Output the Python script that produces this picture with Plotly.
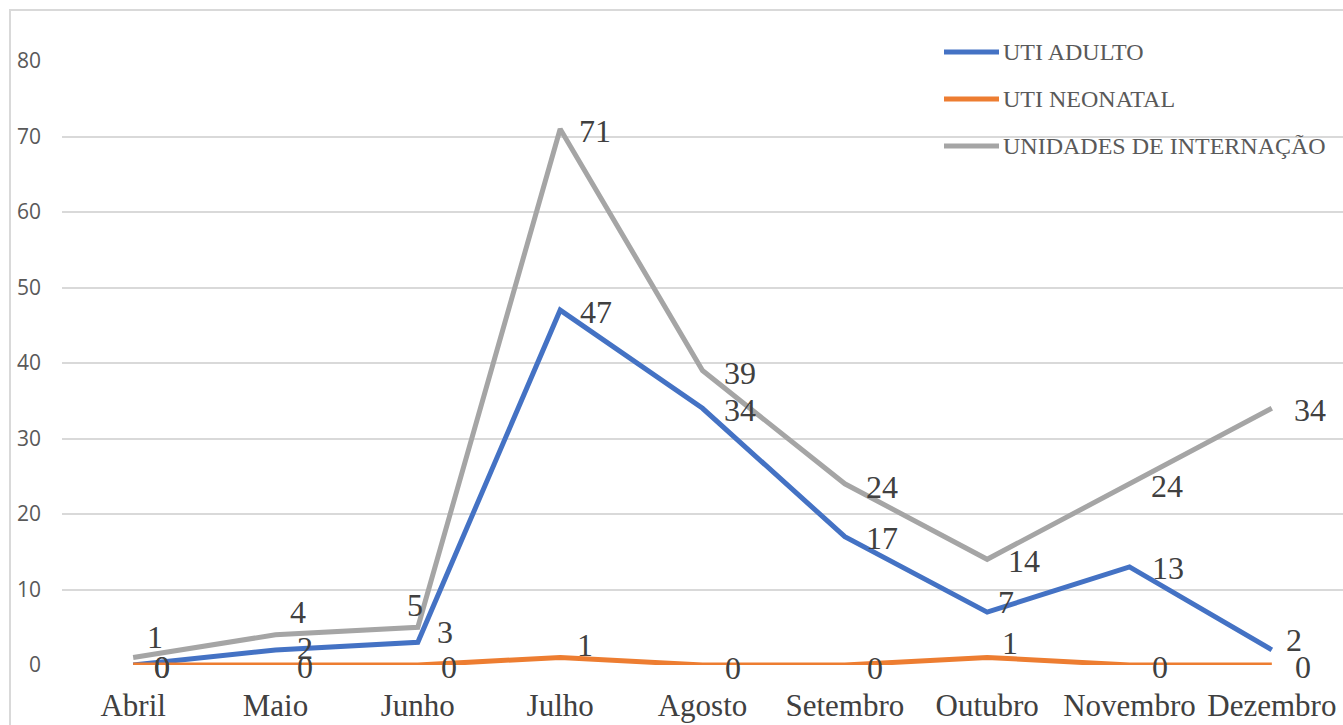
import plotly.graph_objects as go

# Monthly counts per unit
meses = ["Abril", "Maio", "Junho", "Julho", "Agosto", "Setembro", "Outubro", "Novembro", "Dezembro"]
uti_adulto = [0, 2, 3, 47, 34, 17, 7, 13, 2]
uti_neonatal = [0, 0, 0, 1, 0, 0, 1, 0, 0]
unidades_internacao = [1, 4, 5, 71, 39, 24, 14, 24, 34]
y_ticks = [0, 10, 20, 30, 40, 50, 60, 70, 80]

# Series styling (drawing order: adult ICU, neonatal ICU, wards on top)
series = [
    ("UTI ADULTO", uti_adulto, "#4472C4"),
    ("UTI NEONATAL", uti_neonatal, "#ED7D31"),
    ("UNIDADES DE INTERNAÇÃO", unidades_internacao, "#A5A5A5"),
]

# Pixel nudges (dx, dy downward) for each value label, per series
label_nudges = {
    "UTI ADULTO": [(29, 2), (29, -2), (27, -10), (36, 2), (37, 2), (37, 1), (19, -10), (38, 1), (22, -10)],
    "UTI NEONATAL": [(29, 2), (29, 2), (31, 2), (25, -12), (30, 3), (30, 3), (23, -14), (30, 2), (31, 2)],
    "UNIDADES DE INTERNAÇÃO": [(22, -20), (22, -23), (-3, -22), (35, 2), (37, 2), (37, 3), (37, 2), (37, 2), (38, 2)],
}

fig = go.Figure()
for name, values, color in series:
    fig.add_trace(go.Scatter(
        x=meses, y=values, name=name, mode="lines",
        line=dict(color=color, width=5),
        cliponaxis=False, showlegend=False,
    ))

annotations = []
for name, values, color in series:
    for mes, v, (dx, dy) in zip(meses, values, label_nudges[name]):
        annotations.append(dict(
            x=mes, y=v, xref="x", yref="y", text=str(v), showarrow=False,
            xanchor="center", yanchor="middle", xshift=dx, yshift=-dy,
            font=dict(family="Liberation Serif", size=32, color="#404040"),
        ))

# Legend drawn as line swatches with labels in the upper right
PLOT_L, PLOT_R, PLOT_T, PLOT_B = 62, 1343, 61, 665


def px_x(px):
    return (px - PLOT_L) / (PLOT_R - PLOT_L)


def px_y(py):
    return (PLOT_B - py) / (PLOT_B - PLOT_T)


shapes = []
for i, (name, values, color) in enumerate(series):
    yy = px_y(52 + 47 * i)
    shapes.append(dict(type="line", xref="paper", yref="paper",
                       x0=px_x(944), x1=px_x(999), y0=yy, y1=yy,
                       line=dict(color=color, width=5)))
    annotations.append(dict(
        x=px_x(1001), y=yy, xref="paper", yref="paper", text=name,
        showarrow=False, xanchor="left", yanchor="middle",
        font=dict(family="Liberation Serif", size=24, color="#595959"),
    ))

# Chart area border
shapes.append(dict(type="rect", xref="paper", yref="paper",
                   x0=px_x(10), x1=px_x(1400), y0=px_y(800), y1=px_y(10),
                   line=dict(color="#D9D9D9", width=2), layer="below"))

fig.update_layout(
    width=1343, height=725,
    margin=dict(l=PLOT_L, r=0, t=PLOT_T, b=725 - PLOT_B),
    paper_bgcolor="white", plot_bgcolor="white",
    shapes=shapes, annotations=annotations,
    xaxis=dict(
        type="category", range=[-0.5, 8.5], showgrid=False, zeroline=False,
        showline=False, ticks="", ticklabelstandoff=19,
        tickfont=dict(family="Liberation Serif", size=31, color="#404040"),
    ),
    yaxis=dict(
        range=[0, 80], tickvals=y_ticks, showgrid=True, gridcolor="#D9D9D9",
        gridwidth=2, zeroline=False, showline=False, ticks="",
        ticklabelstandoff=20,
        tickfont=dict(family="Open Sans", size=21, color="#595959"),
    ),
)

fig.write_html("out.html")
